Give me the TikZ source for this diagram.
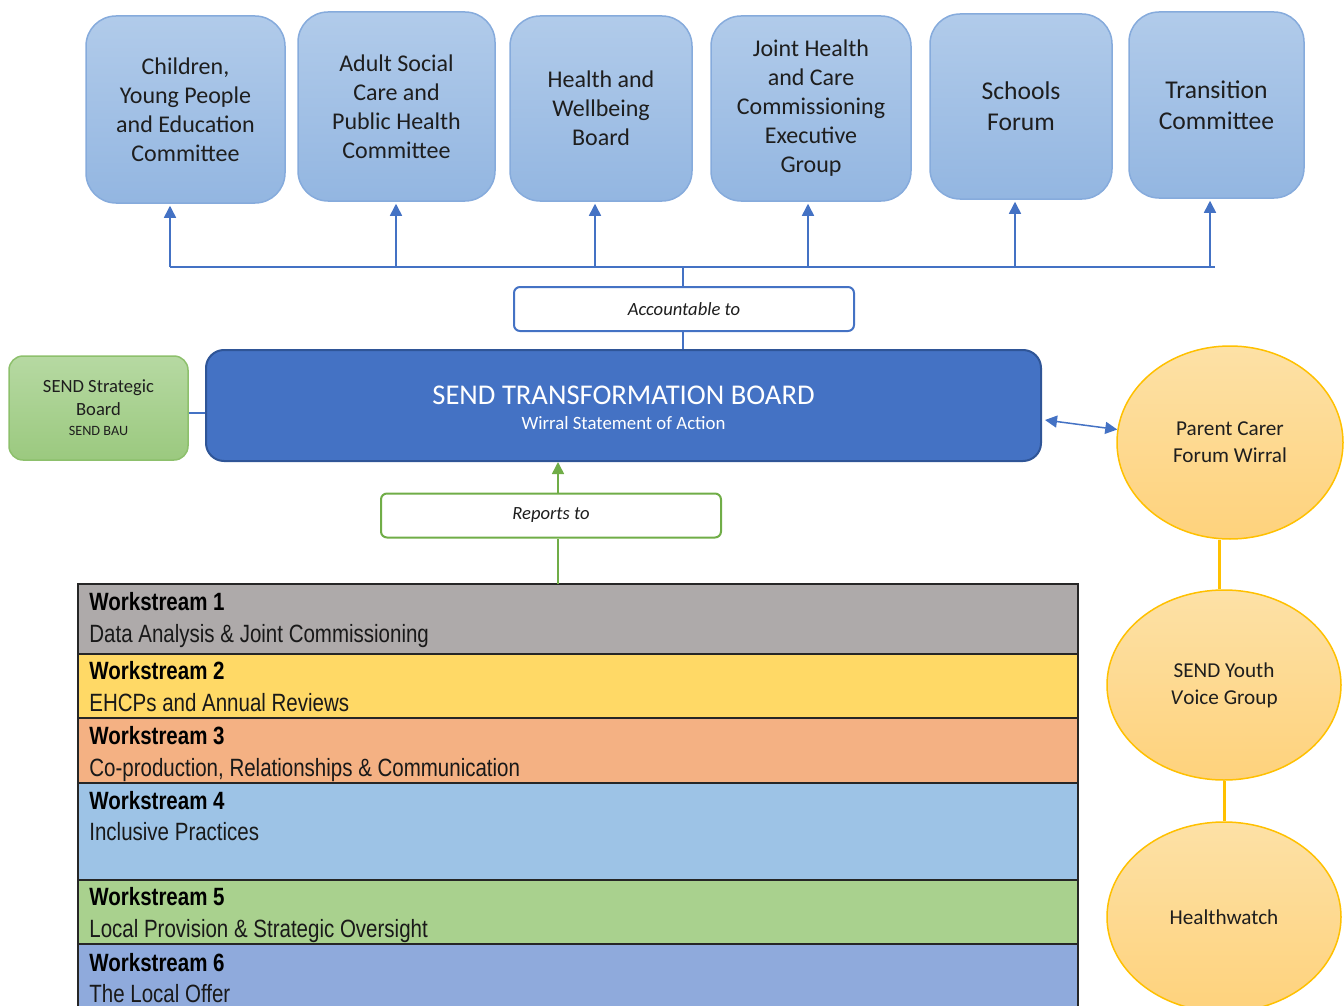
\documentclass[tikz,border=0pt]{standalone}
\usepackage{fontspec}
\setmainfont{Carlito}
\newfontfamily\narrowfont[FakeStretch=0.82]{Liberation Sans}
\usetikzlibrary{positioning, calc, arrows.meta, shapes.geometric}

\definecolor{txt}{HTML}{1E1E1E}
\definecolor{boxtop}{HTML}{B1CBEA}
\definecolor{boxbot}{HTML}{93B6E1}
\definecolor{boxedge}{HTML}{86ABDC}
\definecolor{boardblue}{HTML}{4472C4}
\definecolor{boardedge}{HTML}{2F5597}
\definecolor{grntop}{HTML}{B6D9A2}
\definecolor{grnbot}{HTML}{9BC97F}
\definecolor{grnedge}{HTML}{8DC06C}
\definecolor{repgreen}{HTML}{70AD47}
\definecolor{circtop}{HTML}{FDE1A6}
\definecolor{circbot}{HTML}{FED27C}
\definecolor{circedge}{HTML}{FFC000}
\definecolor{wsgrey}{HTML}{AEAAAA}
\definecolor{wsyellow}{HTML}{FFD966}
\definecolor{wsorange}{HTML}{F4B183}
\definecolor{wsblue}{HTML}{9DC3E6}
\definecolor{wsgreen}{HTML}{A9D18E}
\definecolor{wsdark}{HTML}{8FAADC}

\tikzset{
  topbox/.style={draw=boxedge, line width=0.75pt, rounded corners=15pt,
    top color=boxtop, bottom color=boxbot, minimum height=93pt,
    align=center, inner sep=0pt, text=txt,
    font=\fontsize{12}{14.5}\selectfont},
  labelbox/.style={draw, line width=1pt, fill=white, rounded corners=3pt,
    minimum width=170pt, minimum height=22pt, inner sep=0pt, text=txt,
    font=\fontsize{9.3}{11}\selectfont\itshape},
  forum/.style={ellipse, draw=circedge, line width=0.75pt,
    top color=circtop, bottom color=circbot, inner sep=0pt, align=center,
    minimum width=117pt, minimum height=95pt, text=txt,
    font=\fontsize{10.6}{13.5}\selectfont},
  wsrow/.style={draw=black!85, line width=1pt, minimum width=500pt,
    anchor=north west, inner sep=0pt, outer sep=0pt},
  wstitle/.style={anchor=base west, inner sep=0pt, text=black,
    font=\fontsize{12.5}{14}\narrowfont\bfseries},
  wssub/.style={anchor=base west, inner sep=0pt, text=black!90,
    font=\fontsize{12.5}{14}\narrowfont},
  blueline/.style={draw=boardblue, line width=0.75pt},
  bluearrow/.style={blueline, -{Triangle[width=6pt,length=6pt]}},
}

\begin{document}
\begin{tikzpicture}[x=0.5pt, y=-0.5pt]

    \clip (0,0) rectangle (1344,1006);

    % Committees the board is accountable to
    \node[topbox, minimum width=99.5pt, minimum height=93.5pt] (c1) at (185.5,109.5)
        {Children,\\Young People\\and Education\\Committee};
    \node[topbox, minimum width=98.5pt, minimum height=94.5pt] (c2) at (396.5,106.5)
        {Adult Social\\Care and\\Public Health\\Committee};
    \node[topbox, minimum width=91pt, minimum height=92.5pt] (c3) at (601,108.5)
        {Health and\\Wellbeing\\Board};
    \node[topbox, minimum width=100pt, minimum height=92.5pt] (c4) at (811,108.5)
        {Joint Health\\and Care\\Commissioning\\Executive\\Group};
    \node[topbox, minimum width=91pt, minimum height=92.5pt,
          font=\fontsize{12.8}{15.5}\selectfont] (c5) at (1021,106.5)
        {Schools\\Forum};
    \node[topbox, minimum width=87.5pt, minimum height=93pt,
          font=\fontsize{12.8}{15.5}\selectfont] (c6) at (1216.5,105)
        {Transition\\Committee};

    % Distribution line and arrows up
    \coordinate (bus) at (683,267);
    \coordinate (b1) at (170,267);
    \coordinate (b2) at (396,267);
    \coordinate (b3) at (595,267);
    \coordinate (b4) at (808,267);
    \coordinate (b5) at (1015,267);
    \coordinate (b6) at (1210,267);
    \draw[blueline] (b1) -- ([xshift=2.5pt]b6);
    \draw[bluearrow] (b1) -- ([yshift=-1pt]b1 |- c1.south);
    \draw[bluearrow] (b2) -- ([yshift=-1pt]b2 |- c2.south);
    \draw[bluearrow] (b3) -- ([yshift=-1pt]b3 |- c3.south);
    \draw[bluearrow] (b4) -- ([yshift=-1pt]b4 |- c4.south);
    \draw[bluearrow] (b5) -- ([yshift=-1pt]b5 |- c5.south);
    \draw[bluearrow] (b6) -- ([yshift=-1pt]b6 |- c6.south);

    % Accountable to
    \node[labelbox, draw=boardblue] (acc) at (684,309) {Accountable to};
    \draw[blueline] (bus) -- (bus |- acc.north);

    % The board
    \node[draw=boardedge, line width=1pt, fill=boardblue, rounded corners=9pt,
          minimum width=417.5pt, minimum height=55.5pt, inner sep=0pt]
          (board) at (623.5,405.5) {};
    \node[align=center, text=white, inner sep=0pt,
          font=\fontsize{14.3}{12.5}\selectfont] (boardtext) at ([yshift=-1pt]board.center)
        {SEND TRANSFORMATION BOARD\\{\fontsize{9.4}{11}\selectfont Wirral Statement of Action}};
    \draw[blueline] (acc.south -| bus) -- (board.north -| bus);

    % Strategic board on the left
    \node[draw=grnedge, line width=0.75pt, rounded corners=7pt,
          top color=grntop, bottom color=grnbot,
          minimum width=89.5pt, minimum height=52pt, inner sep=0pt,
          align=center, text=txt, font=\fontsize{9.3}{11.5}\selectfont]
          (ssb) at (98.5,408)
        {SEND Strategic\\Board\\[-1.5pt]{\fontsize{7.1}{8}\selectfont SEND BAU}};
    \draw[blueline] ([yshift=-2.5pt]ssb.east) -- ([yshift=-2.5pt]ssb.east -| board.west);

    % Forums on the right
    \node[forum, minimum width=113pt, minimum height=96.5pt] (pcf) at (1230,442.5)
        {Parent Carer\\Forum Wirral};
    \node[forum] (syv) at (1224,685) {SEND Youth\\\textit{V}oice Group};
    \node[forum] (hw) at (1224,917) {Healthwatch};
    \draw[blueline, {Triangle[width=6pt,length=6pt]}-{Triangle[width=6pt,length=6pt]}]
        ($(board.east)+(3,14.5)$) -- ($(pcf.west)+(1,-13)$);
    \draw[circedge, line width=1.5pt] ([xshift=-2.5pt]syv.north) -- ([xshift=-2.5pt]syv.north |- pcf.south);
    \draw[circedge, line width=1.5pt] (syv.south) -- (hw.north);

    % Workstreams
    \node[wsrow, fill=wsgrey, minimum height=35pt] (ws1) at (78,584) {};
    \node[wsrow, fill=wsyellow, minimum height=32pt] (ws2) at (ws1.south west) {};
    \node[wsrow, fill=wsorange, minimum height=32.5pt] (ws3) at (ws2.south west) {};
    \node[wsrow, fill=wsblue, minimum height=48.5pt] (ws4) at (ws3.south west) {};
    \node[wsrow, fill=wsgreen, minimum height=32pt] (ws5) at (ws4.south west) {};
    \node[wsrow, fill=wsdark, minimum height=40pt] (ws6) at (ws5.south west) {};

    \node[wstitle] at (89,610) {Workstream 1};
    \node[wssub] at (89,642) {Data Analysis \& Joint Commissioning};
    \node[wstitle] at (89,679) {Workstream 2};
    \node[wssub] at (89,711) {EHCPs and Annual Reviews};
    \node[wstitle] at (89,744) {Workstream 3};
    \node[wssub] at (89,776) {Co-production, Relationships \& Communication};
    \node[wstitle] at (89,809) {Workstream 4};
    \node[wssub] at (89,840) {Inclusive Practices};
    \node[wstitle] at (89,905) {Workstream 5};
    \node[wssub] at (89,937) {Local Provision \& Strategic Oversight};
    \node[wstitle] at (89,971) {Workstream 6};
    \node[wssub] at (89,1002) {The Local Offer};

    % Reports to
    \node[labelbox, draw=repgreen] (rep) at (551,515.5) {Reports to};
    \coordinate (up) at (558,584);
    \draw[repgreen, line width=0.75pt] (up) -- (up |- rep.south);
    \draw[repgreen, line width=0.75pt, -{Triangle[width=6pt,length=6pt]}]
        (up |- rep.north) -- (up |- board.south);

\end{tikzpicture}
\end{document}
